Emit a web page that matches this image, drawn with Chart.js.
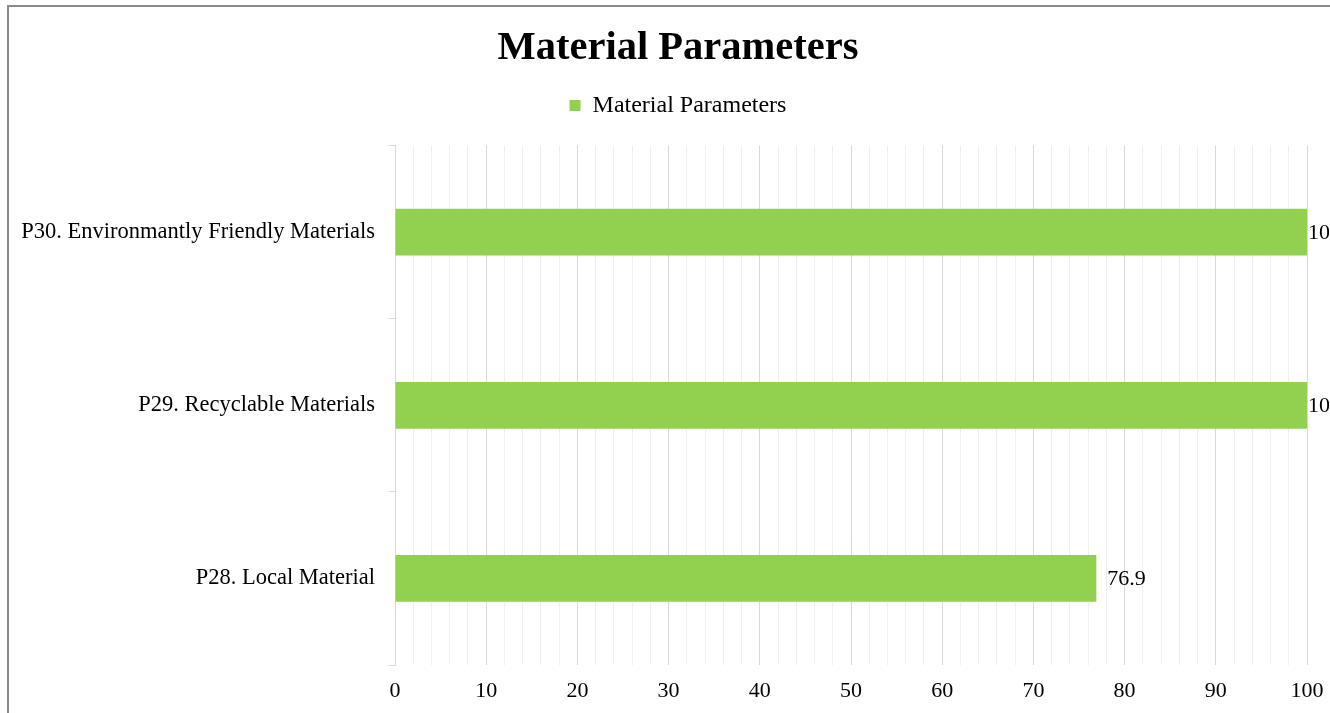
<!DOCTYPE html>
<html>
<head>
<meta charset="utf-8">
<script src="https://cdn.jsdelivr.net/npm/chart.js@4"></script>
<style>
  html, body { margin: 0; padding: 0; background: #fff; }
  .wrap { position: relative; width: 1330px; height: 713px; overflow: hidden; }
  .frame { position: absolute; left: 7px; top: 5px; width: 1400px; height: 800px;
           border-left: 2px solid #8a8a8a; border-top: 2px solid #8a8a8a; }
  canvas { position: absolute; left: 0; top: 0; }
</style>
</head>
<body>
<div class="wrap">
  <div class="frame"></div>
  <canvas id="chart" width="1330" height="713"></canvas>
</div>
<script>
// data
const categories = [
    'P30. Environmantly Friendly Materials',
    'P29. Recyclable Materials',
    'P28. Local Material'
];
const values = [100, 100, 76.9];
const seriesName = 'Material Parameters';
const xTicks = [0, 10, 20, 30, 40, 50, 60, 70, 80, 90, 100];

const SERIF = '"Liberation Serif", "Times New Roman", serif';
const GREEN = '#92D050';

Chart.defaults.font.family = SERIF;
Chart.defaults.color = '#000';

// value labels at the end of each bar
const barValueLabels = {
    id: 'barValueLabels',
    afterDatasetsDraw(chart) {
        const ctx = chart.ctx;
        const area = chart.chartArea;
        const meta = chart.getDatasetMeta(0);
        ctx.save();
        ctx.font = '22px ' + SERIF;
        ctx.fillStyle = '#000';
        ctx.textAlign = 'left';
        ctx.textBaseline = 'middle';
        meta.data.forEach((bar, i) => {
            const x = Math.min(bar.x + 11, area.right + 1);
            ctx.fillText(String(values[i]), x, bar.y + 1);
        });
        ctx.restore();
    }
};

// the original frame is wider than the crop, so title and legend sit right of canvas centre
const HEADER_SHIFT = 49;
const shiftHeader = {
    id: 'shiftHeader',
    afterLayout(chart) {
        if (chart.titleBlock) chart.titleBlock.left += HEADER_SHIFT;
        if (chart.legend) chart.legend.left += HEADER_SHIFT;
    }
};

const ctx = document.getElementById('chart');
new Chart(ctx, {
    type: 'bar',
    data: {
        labels: categories,
        datasets: [{
            label: seriesName,
            data: values,
            backgroundColor: GREEN,
            borderWidth: 0,
            barPercentage: 0.27,
            categoryPercentage: 1
        }]
    },
    options: {
        indexAxis: 'y',
        responsive: false,
        animation: false,
        layout: { padding: { top: 0, right: 23, bottom: 0, left: 0 } },
        plugins: {
            title: {
                display: true,
                text: 'Material Parameters',
                color: '#000',
                font: { size: 40.5, weight: 'bold', family: SERIF },
                padding: { top: 24, bottom: 11 }
            },
            legend: {
                display: true,
                position: 'top',
                labels: {
                    color: '#000',
                    font: { size: 24, family: SERIF },
                    boxWidth: 11,
                    boxHeight: 11,
                    padding: 10
                }
            },
            tooltip: { enabled: false }
        },
        scales: {
            x: {
                min: 0,
                max: 100,
                ticks: {
                    stepSize: 2,
                    autoSkip: false,
                    maxRotation: 0,
                    padding: 13,
                    font: { size: 22, family: SERIF },
                    callback: v => (xTicks.includes(v) ? String(v) : '')
                },
                grid: {
                    drawTicks: false,
                    color: c => (c.tick && c.tick.value % 10 === 0 ? '#d9d9d9' : '#efefef'),
                    lineWidth: 1
                },
                border: { display: false },
                afterFit: scale => {
                    scale.height = 48;
                    scale.paddingLeft = 0;
                    scale.paddingRight = 0;
                }
            },
            // empty spacer between legend and plot
            xTop: {
                type: 'linear',
                position: 'top',
                display: true,
                ticks: { display: false },
                grid: { display: false, drawTicks: false },
                border: { display: false },
                afterFit: scale => {
                    scale.height = 18;
                    scale.paddingLeft = 0;
                    scale.paddingRight = 0;
                }
            },
            y: {
                ticks: {
                    padding: 14,
                    font: { size: 22.5, family: SERIF }
                },
                grid: {
                    offset: true,
                    drawOnChartArea: false,
                    drawTicks: true,
                    tickLength: 6,
                    color: '#d9d9d9'
                },
                border: { display: true, color: '#d9d9d9' },
                afterFit: scale => { scale.width = 395; }
            }
        }
    },
    plugins: [barValueLabels, shiftHeader]
});
</script>
</body>
</html>
